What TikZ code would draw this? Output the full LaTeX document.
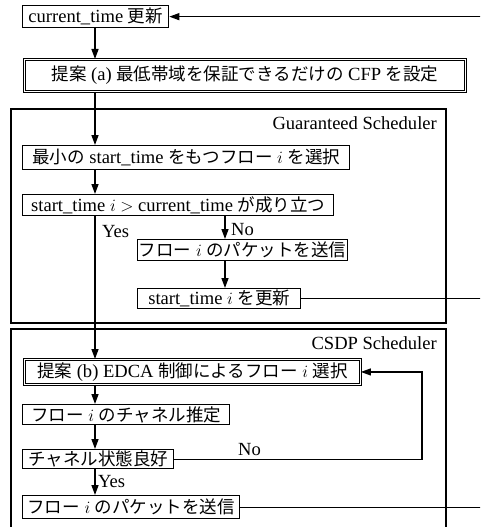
\documentclass[tikz,border=0pt]{standalone}
\usepackage{fontspec}
\setmainfont{Liberation Serif}[Scale=1.06]
\newfontfamily\jpfont{Noto Sans CJK JP}
\usetikzlibrary{arrows.meta}
\newcommand\jj[1]{{\jpfont #1}}
\newcommand\fs{\fontsize{17.5}{20}\selectfont}
\tikzset{
  box/.style={draw, line width=1.3pt, anchor=north west, inner xsep=1pt, inner ysep=0pt, font=\fs},
  dbox/.style={box, double, double distance=1.6pt, line width=0.9pt},
  frame/.style={draw, line width=1.3pt},
  arr/.style={line width=1.3pt, -{Triangle[length=10pt,width=7pt]}},
  ln/.style={line width=1.3pt},
  lbl/.style={font=\fs, inner sep=0pt},
}
\begin{document}
\begin{tikzpicture}[x=1pt,y=-1pt]
\useasboundingbox (0,0) rectangle (480,527);
\clip (0,0) rectangle (480,527);
\fill[white] (0,0) rectangle (480,527);
% columns
\coordinate (c1) at (95,0);
\coordinate (c2) at (225,0);
\coordinate (c3) at (422,0);
\coordinate (R) at (492,0);
% frames
\draw[frame] (11,109) rectangle (446,323);
\draw[frame] (11,329) rectangle (446,570);
\node[lbl, anchor=east] (gs) at (437,123) {Guaranteed Scheduler};
\node[lbl, anchor=east] (cs) at (437,343) {CSDP Scheduler};
% boxes
\node[box, minimum width=146, minimum height=22] (A) at (22,5) {current\_time \jj{更新}};
\node[dbox, minimum width=441, minimum height=32] (Pa) at (24,59) {\jj{提案} (a) \jj{最低帯域を保証できるだけの} CFP \jj{を設定}};
\node[box, minimum width=327, minimum height=24] (G1) at (22,145) {\jj{最小の} start\_time \jj{をもつフロー} $i$ \jj{を選択}};
\node[box, minimum width=311, minimum height=21] (G2) at (22,194) {start\_time $i$ $>$ current\_time \jj{が成り立つ}};
\node[box, minimum width=210, minimum height=21] (G3) at (137,239) {\jj{フロー} $i$ \jj{のパケットを送信}};
\node[box, minimum width=163, minimum height=20] (G4) at (137,288) {start\_time $i$ \jj{を更新}};
\node[dbox, minimum width=336, minimum height=25] (Pb) at (24,359) {\jj{提案} (b) EDCA \jj{制御によるフロー} $i$ \jj{選択}};
\node[box, minimum width=207, minimum height=20] (C1) at (22,404) {\jj{フロー} $i$ \jj{のチャネル推定}};
\node[box, minimum width=151, minimum height=19] (C2) at (22,449) {\jj{チャネル状態良好}};
\node[box, minimum width=217, minimum height=23] (C3) at (22,495) {\jj{フロー} $i$ \jj{のパケットを送信}};
% labels
\node[lbl, anchor=west] (yes1) at (102,232) {Yes};
\node[lbl, anchor=west] (no1) at (231,230) {No};
\node[lbl, anchor=west] (no2) at (238,450) {No};
\node[lbl, anchor=west] (yes2) at (98,482) {Yes};
% connectors
\draw[arr] (A.south -| c1) -- (Pa.north -| c1);
\draw[arr] (Pa.south -| c1) -- (G1.north -| c1);
\draw[arr] (G1.south -| c1) -- (G2.north -| c1);
\draw[arr] (G2.south -| c1) -- (Pb.north -| c1);
\draw[arr] (G2.south -| c2) -- (G3.north -| c2);
\draw[arr] (G3.south -| c2) -- (G4.north -| c2);
\draw[ln] (G4.east) -- (G4.east -| R);
\draw[arr] (C3.east) -- (C3.east -| R) |- (A.east);
\draw[arr] (Pb.south -| c1) -- (C1.north -| c1);
\draw[arr] (C1.south -| c1) -- (C2.north -| c1);
\draw[arr] (C2.south -| c1) -- (C3.north -| c1);
\draw[arr] (C2.east) -- (C2.east -| c3) -- (Pb.east -| c3) -- (Pb.east);
\end{tikzpicture}
\end{document}
